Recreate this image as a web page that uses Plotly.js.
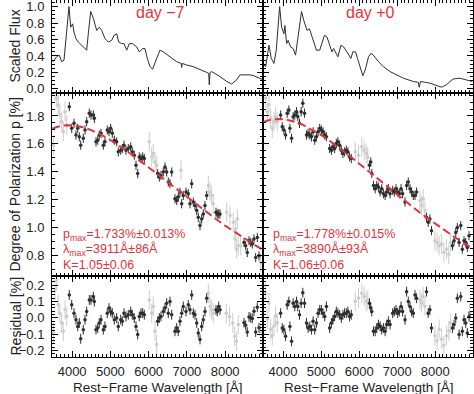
<!DOCTYPE html>
<html><head><meta charset="utf-8">
<script src="https://cdn.plot.ly/plotly-3.0.1.min.js"></script>
<style>html,body{margin:0;padding:0;background:#fff}#c{width:474px;height:394px}</style>
</head><body><div id="c"></div>
<script>
// ---------- Spectra (scaled flux) ----------
const fluxL_wl = [3500,3597,3665,3728,3788,3858,3918,3963,4015,4049,4101,4161,4250,4337,4381,4423,4486,4554,4642,4710,4773,4859,4946,5035,5095,5165,5218,5296,5356,5427,5495,5584,5688,5756,5845,5905,5965,6036,6106,6193,6297,6383,6558,6734,6850,6864,6880,6995,7168,7343,7518,7570,7586,7605,7649,7866,8041,8171,8302,8388,8493,8650,8754,8990];
const fluxL    = [0.33,0.39,0.41,0.33,0.35,0.67,1.00,0.75,0.79,0.69,0.61,0.57,0.53,0.49,0.47,0.67,0.94,0.86,0.71,0.75,0.71,0.61,0.57,0.59,0.65,0.67,0.57,0.55,0.55,0.47,0.55,0.55,0.51,0.45,0.49,0.49,0.37,0.27,0.24,0.35,0.47,0.45,0.39,0.33,0.31,0.26,0.31,0.29,0.27,0.23,0.20,0.19,0.05,0.20,0.21,0.15,0.09,0.06,0.11,0.17,0.17,0.17,0.16,0.11];
const fluxR_wl = [3500,3545,3631,3691,3762,3822,3911,3963,4023,4049,4094,4135,4198,4266,4329,4397,4486,4546,4632,4695,4737,4807,4878,4964,5024,5087,5155,5218,5285,5330,5390,5442,5521,5591,5651,5722,5782,5834,5905,5957,6028,6096,6159,6245,6305,6376,6506,6637,6812,6985,7160,7421,7552,7578,7610,7858,8030,8161,8292,8467,8642,8815,8972];
const fluxR    = [0.29,0.27,0.53,0.37,0.31,0.47,1.00,0.75,0.67,0.77,0.55,0.59,0.51,0.49,0.41,0.67,0.94,0.83,0.71,0.73,0.67,0.59,0.47,0.47,0.55,0.65,0.63,0.55,0.45,0.49,0.43,0.39,0.53,0.51,0.47,0.41,0.37,0.45,0.45,0.37,0.25,0.16,0.23,0.39,0.43,0.41,0.33,0.27,0.21,0.17,0.13,0.09,0.08,0.02,0.09,0.07,0.04,0.02,0.05,0.12,0.13,0.11,0.09];

// ---------- Polarization, day -7 ----------
const polL_wl = [3926,3989,4049,4101,4146,4188,4224,4292,4337,4381,4449,4493,4554,4580,4624,4669,4710,4755,4815,4859,4919,4964,5008,5050,5103,5165,5207,5270,5312,5356,5408,5468,5531,5573,5625,5670,5714,5756,5800,5845,5887,6237,6279,6323,6383,6428,6472,6514,6558,6603,6689,6734,6775,6820,6864,6906,6977,7037,7081,7126,7168,7212,7257,7298,7343,7387,7429,7473,7518,7761,7795,7832,7866,8493,8537,8579,8624,8668,8710,8754,8799,8841,8885];
const polL    = [1.867,1.711,1.747,1.663,1.711,1.650,1.590,1.639,1.699,1.759,1.820,1.807,1.807,1.783,1.614,1.626,1.663,1.675,1.590,1.614,1.699,1.687,1.711,1.675,1.626,1.614,1.542,1.554,1.566,1.590,1.554,1.566,1.578,1.542,1.518,1.446,1.386,1.506,1.494,1.506,1.494,1.386,1.361,1.373,1.397,1.433,1.397,1.325,1.313,1.397,1.205,1.193,1.217,1.253,1.169,1.229,1.253,1.241,1.169,1.313,1.181,1.157,1.120,1.072,1.012,1.060,1.096,1.157,1.229,1.108,1.096,1.096,1.096,0.891,0.867,0.819,0.903,0.891,0.880,0.916,0.783,0.927,0.795];
const resL    = [0.139,0.079,0.028,-0.012,-0.053,-0.032,-0.129,-0.073,-0.012,0.038,0.109,0.109,0.129,0.099,-0.073,-0.063,-0.032,-0.012,-0.073,-0.053,0.028,0.059,0.038,0.028,-0.012,-0.002,-0.053,-0.012,-0.022,0.028,0.008,0.018,0.038,0.018,-0.002,-0.053,-0.103,0.008,0.028,0.028,0.018,-0.022,-0.002,0.008,0.038,0.059,0.089,0.028,0.099,0.018,-0.083,-0.063,-0.083,-0.022,0.028,0.069,0.038,0.079,0.048,0.139,0.028,0.018,-0.032,-0.093,-0.133,-0.053,-0.012,0.038,0.119,0.048,0.038,0.069,0.048,-0.030,-0.046,-0.087,0.005,0.000,-0.004,0.039,-0.087,0.064,-0.061];
const lightL_wl = [3508,3552,3597,3639,3683,3728,3769,3814,3858,6018,6080,6122,6167,6211,6846,7560,7604,7649,7691,8041,8127,8213,8258,8276,8302,8318,8344,8406,8929];
const lightL    = [1.590,1.976,1.928,1.880,1.807,1.759,1.686,1.831,1.735,1.614,1.506,1.530,1.470,1.446,1.410,1.301,1.253,1.229,1.169,1.108,1.084,1.036,0.916,0.988,0.843,1.060,0.867,0.867,0.747];
const lightResL_wl = [3508,3552,3597,3639,3683,3728,3769,3814,3858,6018,6080,6122,6167,6211,7560,7604,7649,7691,8030,8110,8200,8250,8300,8344,8929];
const lightResL    = [-0.09,0.17,0.23,0.079,0.028,-0.032,-0.083,0.048,0.008,0.109,0.028,0.069,-0.083,-0.164,0.149,0.069,0.048,0.028,0.028,0.008,-0.032,-0.113,-0.143,-0.042,-0.09];

// ---------- Polarization, day +0 ----------
const polR_wl = [3937,3979,4023,4067,4109,4154,4180,4224,4266,4310,4355,4389,4433,4475,4520,4564,4616,4658,4703,4747,4789,4833,4878,4920,4964,5008,5050,5095,5139,5225,5270,5312,5356,5400,5442,5487,5531,5573,5617,5662,5704,5748,5793,6271,6305,6331,6376,6420,6462,6506,6551,6593,6637,6682,6723,6768,6812,6880,6924,6969,7011,7055,7100,7142,7204,7246,7290,7335,7377,7421,7466,7508,7769,7813,7858,7900,8450,8493,8537,8579,8624,8668,8710,8754,8799,8841,8885];
const polR    = [1.807,1.723,1.699,1.663,1.820,1.843,1.711,1.639,1.795,1.807,1.831,1.795,1.747,1.831,1.892,1.820,1.663,1.675,1.663,1.650,1.686,1.626,1.650,1.686,1.711,1.699,1.686,1.663,1.650,1.566,1.554,1.578,1.566,1.603,1.614,1.590,1.554,1.530,1.542,1.554,1.542,1.506,1.494,1.446,1.470,1.386,1.301,1.277,1.301,1.289,1.253,1.277,1.241,1.229,1.253,1.277,1.241,1.265,1.253,1.277,1.253,1.241,1.277,1.241,1.181,1.301,1.325,1.277,1.253,1.229,1.229,1.253,1.072,1.036,1.060,0.976,0.867,0.903,0.963,0.999,0.891,1.012,0.843,0.903,0.891,0.855,0.940];
const resR    = [0.028,-0.063,-0.073,-0.113,0.079,0.099,-0.053,-0.144,0.089,0.069,0.099,0.069,0.018,0.089,0.153,0.089,-0.032,-0.063,-0.053,-0.073,-0.022,-0.073,-0.032,0.028,0.048,0.048,0.028,0.008,0.069,-0.063,-0.032,-0.012,0.008,0.038,0.028,0.018,-0.002,0.018,0.028,0.028,0.038,0.008,0.018,0.089,0.060,0.038,-0.083,-0.083,-0.063,-0.042,-0.053,-0.073,-0.063,-0.083,-0.042,-0.022,-0.042,0.028,0.038,0.048,0.028,0.038,0.069,0.038,-0.012,0.159,0.099,0.069,0.038,0.028,0.139,0.119,0.159,0.028,0.048,-0.063,-0.063,-0.042,-0.002,0.119,-0.103,0.129,-0.083,-0.012,-0.032,-0.093,0.008];
const lightR_wl = [3545,3586,3631,3675,3717,3762,3806,3848,5897,5983,6070,6133,6185,6227,7596,7638,7682,7727,7988,8048,8101,8161,8223,8292,8354,8397,8904];
const lightR    = [1.928,1.831,1.880,1.783,1.711,1.759,1.795,1.759,1.542,1.518,1.578,1.554,1.530,1.506,1.193,1.157,1.205,1.120,0.903,0.891,0.867,0.880,0.819,0.843,0.807,0.891,1.181];
const lightResR = [0.15,-0.01,0.09,-0.07,-0.11,-0.05,0.01,-0.03,0.10,0.12,0.15,0.13,0.10,0.11,0.11,0.09,0.13,0.07,-0.11,-0.14,-0.07,-0.13,-0.17,-0.11,-0.08,-0.03,0.03];

// ---------- Serkowski fits ----------
const fit_wl = [3480,3600,3750,3900,4100,4300,4500,4750,5000,5250,5500,5750,6000,6250,6500,6750,7000,7250,7500,7750,8000,8250,8500,8750,9000];
const fitL   = [1.708,1.721,1.730,1.733,1.729,1.717,1.698,1.666,1.627,1.582,1.534,1.483,1.430,1.376,1.322,1.268,1.214,1.162,1.110,1.061,1.012,0.966,0.921,0.877,0.836];
const fitR   = [1.755,1.767,1.776,1.778,1.773,1.759,1.739,1.704,1.663,1.616,1.566,1.512,1.457,1.401,1.345,1.289,1.233,1.179,1.126,1.075,1.025,0.977,0.930,0.886,0.843];

// ---------- Labels ----------
const epochLabels = ['day \u22127', 'day +0'];
const fitTextL = ['p<sub>max</sub>=1.733%\u00b10.013%', '\u03bb<sub>max</sub>=3911\u00c5\u00b186\u00c5', 'K=1.05\u00b10.06'];
const fitTextR = ['p<sub>max</sub>=1.778%\u00b10.015%', '\u03bb<sub>max</sub>=3890\u00c5\u00b193\u00c5', 'K=1.06\u00b10.06'];
const xTickVals = [4000,5000,6000,7000,8000];

// ---------- geometry ----------
const W=474,H=394, ML=52, MR=1, MT=0, MB=37;
const PW=W-ML-MR, PH=H-MT-MB;
const px=(x)=>(x-ML)/PW, py=(y)=>(H-MB-y)/PH;
const colL=[0, px(263)], colR=[px(263), 1];
const rowT=[py(93), 1], rowM=[py(276), py(93)], rowB=[0, py(276)];
const XR=[3474, 8990];
const RED='#e2343a', DARK='#2e2e2e', LIGHT='#cccccc', FONT='"Liberation Sans", Arial, sans-serif', TXT='#222';

function xax(dom, anchor, labels){
  return {domain:dom, anchor:anchor, range:XR, tickvals:xTickVals, showticklabels:labels,
    ticks:'inside', ticklen:6, tickwidth:1, tickcolor:'#000', mirror:'allticks', showline:true, linecolor:'#000', linewidth:1,
    showgrid:false, zeroline:false, ticklabelstandoff:2,
    minor:{dtick:100, tick0:0, ticks:'inside', ticklen:3, tickcolor:'#000', showgrid:false},
    tickfont:{family:FONT, size:13, color:TXT}};
}
function yax(dom, anchor, range, dtick, mdtick, labels){
  return {domain:dom, anchor:anchor, range:range, dtick:dtick, tick0:0, tickformat:'.1f', showticklabels:labels,
    ticks:'inside', ticklen:6, tickwidth:1, tickcolor:'#000', mirror:'allticks', showline:true, linecolor:'#000', linewidth:1,
    showgrid:false, zeroline:false, ticklabelstandoff:4, ticklabeloverflow:'allow',
    minor:{dtick:mdtick, tick0:0, ticks:'inside', ticklen:3, tickcolor:'#000', showgrid:false},
    tickfont:{family:FONT, size:13, color:TXT}};
}

function pts(x,y,xa,ya,color,err,sz){
  return {x:x,y:y,xaxis:xa,yaxis:ya,type:'scatter',mode:'markers',
    marker:{size:sz||3.5,color:color},
    error_y:{type:'constant',value:err,color:color,thickness:1,width:0},
    showlegend:false,hoverinfo:'skip'};
}
function line(x,y,xa,ya,color,w,dash){
  return {x:x,y:y,xaxis:xa,yaxis:ya,type:'scatter',mode:'lines',
    line:{color:color,width:w,dash:dash||'solid'},showlegend:false,hoverinfo:'skip'};
}

const data = [
  line(fluxL_wl, fluxL, 'x', 'y', DARK, 1),
  line(fluxR_wl, fluxR, 'x2', 'y2', DARK, 1),
  pts(lightL_wl, lightL, 'x3', 'y3', LIGHT, 0.07),
  pts(polL_wl, polL, 'x3', 'y3', DARK, 0.033),
  line(fit_wl, fitL, 'x3', 'y3', RED, 2, '8px,4px'),
  pts(lightR_wl, lightR, 'x4', 'y4', LIGHT, 0.07),
  pts(polR_wl, polR, 'x4', 'y4', DARK, 0.033),
  line(fit_wl, fitR, 'x4', 'y4', RED, 2, '8px,4px'),
  pts(lightResL_wl, lightResL, 'x5', 'y5', LIGHT, 0.06),
  pts(polL_wl, resL, 'x5', 'y5', DARK, 0.03),
  pts(lightR_wl, lightResR, 'x6', 'y6', LIGHT, 0.06),
  pts(polR_wl, resR, 'x6', 'y6', DARK, 0.03)
];

const ann = [];
function txt(x,y,t,opt){ ann.push(Object.assign({xref:'paper',yref:'paper',x:px(x),y:py(y),text:t,showarrow:false,
  xanchor:'center', yanchor:'middle', font:{family:FONT,size:14,color:TXT}},opt||{})); }
txt(15, 46.5, 'Scaled Flux', {textangle:-90});
txt(15, 184.5, 'Degree of Polarization p [%]', {textangle:-90});
txt(15, 316.5, 'Residual [%]', {textangle:-90});
txt(157.5, 387.5, 'Rest\u2212Frame Wavelength [\u00c5]', {font:{family:FONT,size:13.5,color:TXT}});
txt(368, 387.5, 'Rest\u2212Frame Wavelength [\u00c5]', {font:{family:FONT,size:13.5,color:TXT}});
txt(160, 13, epochLabels[0], {font:{family:FONT,size:16,color:RED}});
txt(370, 13, epochLabels[1], {font:{family:FONT,size:16,color:RED}});
const fy=[235,250,265];
fitTextL.forEach((t,i)=>txt(61, fy[i], t, {xanchor:'left', font:{family:FONT,size:12.5,color:RED}}));
fitTextR.forEach((t,i)=>txt(271, fy[i], t, {xanchor:'left', font:{family:FONT,size:12.5,color:RED}}));

const layout = {
  width:W, height:H, margin:{l:ML,r:MR,t:MT,b:MB,pad:0},
  paper_bgcolor:'#fff', plot_bgcolor:'rgba(0,0,0,0)', showlegend:false,
  font:{family:FONT, color:TXT},
  xaxis: xax(colL,'y',false),  yaxis: yax(rowT,'x',[-0.05,1.08],0.2,0.05,true),
  xaxis2:xax(colR,'y2',false), yaxis2:yax(rowT,'x2',[-0.05,1.08],0.2,0.05,false),
  xaxis3:xax(colL,'y3',false), yaxis3:yax(rowM,'x3',[0.65,1.965],0.2,0.05,true),
  xaxis4:xax(colR,'y4',false), yaxis4:yax(rowM,'x4',[0.65,1.965],0.2,0.05,false),
  xaxis5:xax(colL,'y5',true),  yaxis5:yax(rowB,'x5',[-0.24,0.255],0.1,0.02,true),
  xaxis6:xax(colR,'y6',true),  yaxis6:yax(rowB,'x6',[-0.24,0.255],0.1,0.02,false),
  annotations: ann
};
Plotly.newPlot('c', data, layout, {staticPlot:true, displayModeBar:false});
</script></body></html>
